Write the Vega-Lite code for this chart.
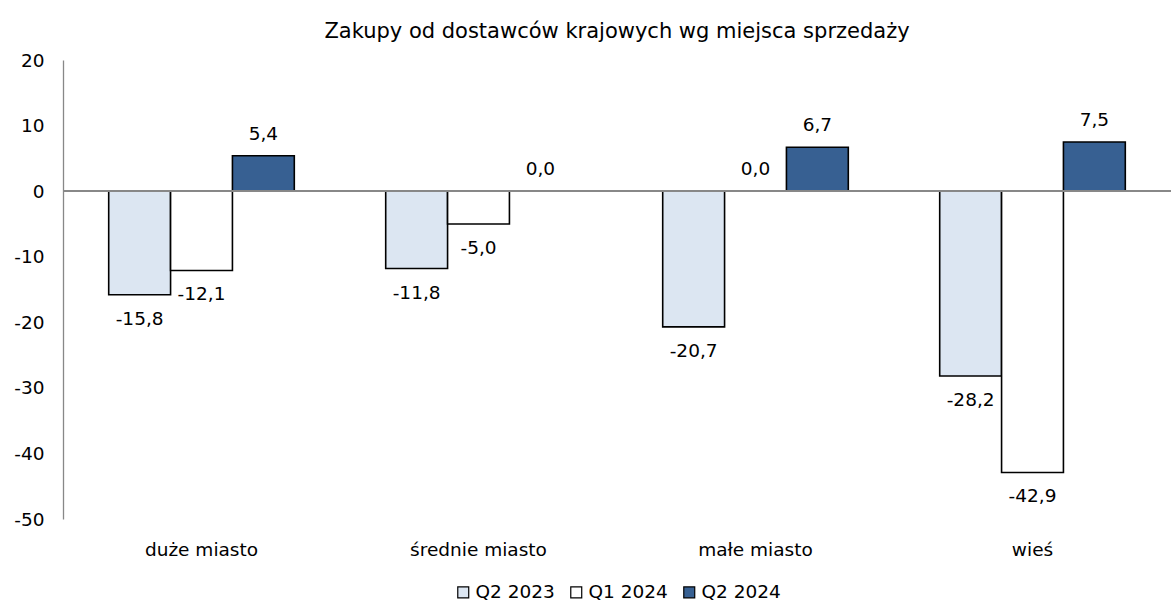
{
  "$schema": "https://vega.github.io/schema/vega-lite/v6.json",
  "width": 1108,
  "height": 459,
  "autosize": {"type": "none"},
  "padding": {"left": 63, "top": 60, "right": 0, "bottom": 84},
  "background": "white",
  "config": {
    "view": {"stroke": null},
    "font": "DejaVu Sans",
    "legend": {"layout": {"bottom": {"anchor": "middle"}}},
    "locale": {"number": {"decimal": ",", "thousands": " ", "grouping": [3], "currency": ["", " zł"], "minus": "-"}}
  },
  "title": {"text": "Zakupy od dostawców krajowych wg miejsca sprzedaży", "fontSize": 21, "fontWeight": "normal", "color": "black", "offset": 9, "anchor": "middle"},
  "data": {"values": [
    {"miejsce": "duże miasto", "okres": "Q2 2023", "v": -15.8},
    {"miejsce": "duże miasto", "okres": "Q1 2024", "v": -12.1},
    {"miejsce": "duże miasto", "okres": "Q2 2024", "v": 5.4},
    {"miejsce": "średnie miasto", "okres": "Q2 2023", "v": -11.8},
    {"miejsce": "średnie miasto", "okres": "Q1 2024", "v": -5.0},
    {"miejsce": "średnie miasto", "okres": "Q2 2024", "v": 0.0},
    {"miejsce": "małe miasto", "okres": "Q2 2023", "v": -20.7},
    {"miejsce": "małe miasto", "okres": "Q1 2024", "v": 0.0},
    {"miejsce": "małe miasto", "okres": "Q2 2024", "v": 6.7},
    {"miejsce": "wieś", "okres": "Q2 2023", "v": -28.2},
    {"miejsce": "wieś", "okres": "Q1 2024", "v": -42.9},
    {"miejsce": "wieś", "okres": "Q2 2024", "v": 7.5}
  ]},
  "encoding": {
    "x": {"field": "miejsce", "type": "nominal", "sort": null,
      "scale": {"paddingInner": 0.33, "paddingOuter": 0.165},
      "axis": {"title": null, "domain": false, "ticks": false, "labelAngle": 0, "labelFontSize": 18.5, "labelColor": "black", "labelPadding": 21}},
    "xOffset": {"field": "okres", "type": "nominal", "sort": ["Q2 2023", "Q1 2024", "Q2 2024"], "scale": {"paddingInner": 0, "paddingOuter": 0}}
  },
  "layer": [
    {
      "mark": {"type": "bar", "stroke": "black", "strokeWidth": 1.6},
      "encoding": {
        "y": {"field": "v", "type": "quantitative",
          "scale": {"domain": [-50, 20], "nice": false},
          "axis": {"title": null, "values": [-50, -40, -30, -20, -10, 0, 10, 20], "grid": false, "ticks": false, "domainColor": "#888888", "domainWidth": 1.3, "labelFontSize": 18.5, "labelColor": "black", "labelPadding": 19, "format": "d"}},
        "fill": {"field": "okres", "type": "nominal", "sort": ["Q2 2023", "Q1 2024", "Q2 2024"],
          "scale": {"domain": ["Q2 2023", "Q1 2024", "Q2 2024"], "range": ["#DCE6F2", "#FFFFFF", "#376092"]},
          "legend": {"title": null, "orient": "bottom", "direction": "horizontal", "symbolType": "square", "symbolSize": 120, "symbolStrokeColor": "black", "symbolStrokeWidth": 1.2, "labelFontSize": 18.5, "labelColor": "black", "labelOffset": 3, "columnPadding": 12, "offset": 24}}
      }
    },
    {
      "mark": {"type": "rule", "color": "#888888", "strokeWidth": 1.3},
      "encoding": {"y": {"datum": 0, "type": "quantitative"}, "x": {"value": 0}, "x2": {"value": 1108}, "xOffset": null}
    },
    {
      "transform": [{"filter": "datum.v >= 0"}],
      "mark": {"type": "text", "baseline": "bottom", "dy": -12, "fontSize": 18.5, "color": "black"},
      "encoding": {"y": {"field": "v", "type": "quantitative"}, "text": {"field": "v", "type": "quantitative", "format": ".1f"}}
    },
    {
      "transform": [{"filter": "datum.v < 0"}],
      "mark": {"type": "text", "baseline": "top", "dy": 15, "fontSize": 18.5, "color": "black"},
      "encoding": {"y": {"field": "v", "type": "quantitative"}, "text": {"field": "v", "type": "quantitative", "format": ".1f"}}
    }
  ]
}
